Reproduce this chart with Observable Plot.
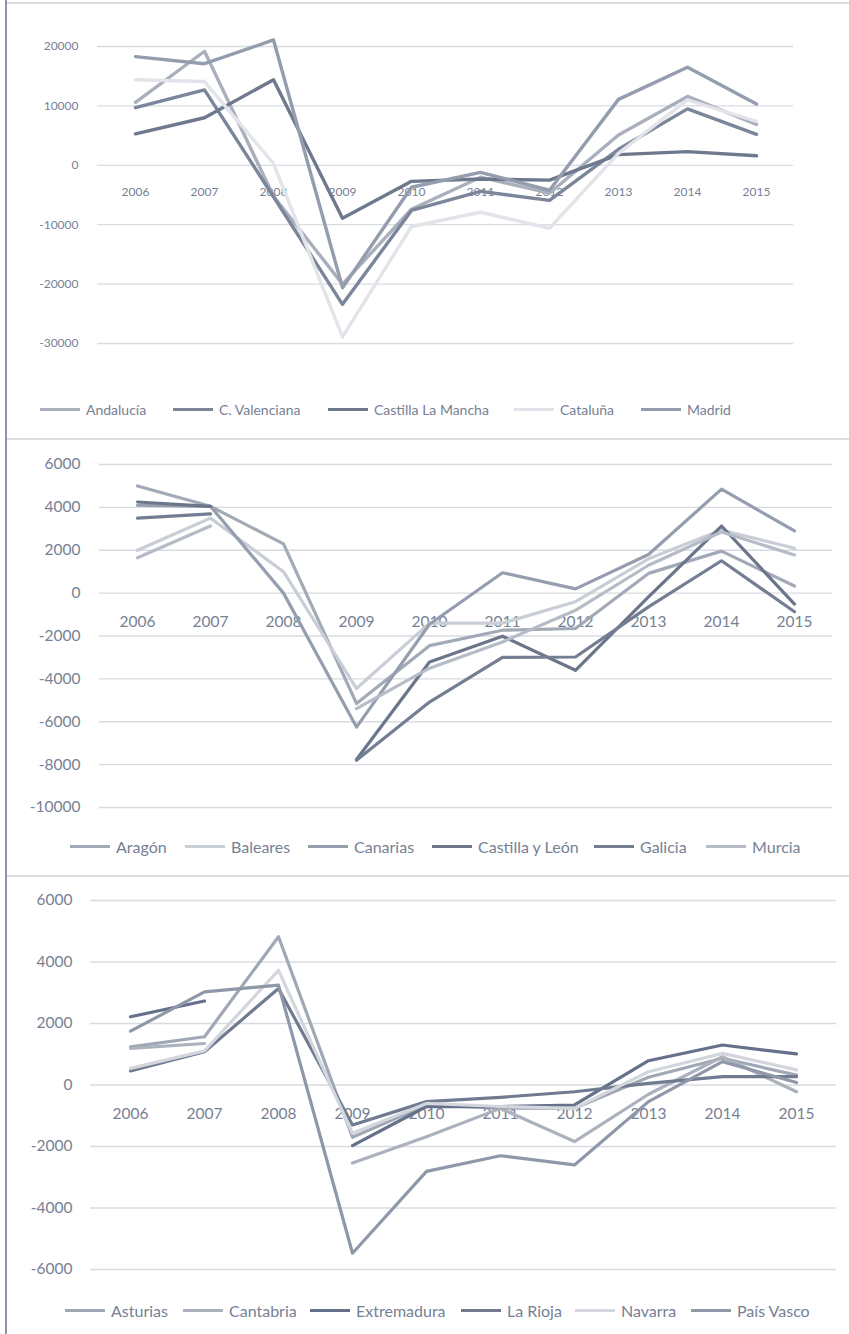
<!DOCTYPE html>
<html>
<head>
<meta charset="utf-8">
<script src="https://cdn.jsdelivr.net/npm/d3@7"></script>
<script src="https://cdn.jsdelivr.net/npm/@observablehq/plot@0.6"></script>
<style>
  html, body { margin: 0; padding: 0; background: #fff; }
  body { width: 849px; height: 1334px; position: relative; overflow: hidden; font-family: Lato, "Open Sans", sans-serif; }
  .panel { position: absolute; left: 0; width: 849px; }
  .hline { position: absolute; left: 7px; right: 0; height: 2px; background: #dcdee4; }
  .vline { position: absolute; left: 5px; top: 0; width: 2px; height: 1334px; background: #8a94a6; }
  .leg { position: absolute; display: flex; align-items: center; white-space: nowrap; color: #76819400; }
  .leg span { color: #768194; }
  .leg .sw { width: 40px; height: 3px; margin-right: 6px; }
</style>
</head>
<body>
<div id="root"></div>
<script>
// ---------- DATA ----------
const years = ["2006","2007","2008","2009","2010","2011","2012","2013","2014","2015"];

// Panel 1
const p1Names = ["Andalucía", "C. Valenciana", "Castilla La Mancha", "Cataluña", "Madrid"];
const andalucia        = [10600, 19200, -5200, -20000, -7400, -2000, -4700, 5100, 11600, 6900];
const cValenciana      = [9700, 12700, -5300, -23400, -7600, -4400, -5900, 2700, 9500, 5200];
const castillaLaMancha = [5300, 8000, 14400, -8900, -2700, -2300, -2500, 1800, 2300, 1600];
const cataluna         = [14400, 14100, 300, -28900, -10300, -7900, -10600, 2000, 11000, 7400];
const madrid           = [18300, 17100, 21100, -20600, -3700, -1200, -4200, 11100, 16500, 10300];
const p1Colors = ["#a9b0bc", "#7b869a", "#6e798d", "#e3e4e9", "#949dad"];
const p1Ticks = [20000, 10000, 0, -10000, -20000, -30000];

// Panel 2
const p2Names = ["Aragón", "Baleares", "Canarias", "Castilla y León", "Galicia", "Murcia"];
const aragon        = [5000, 4050, 2300, -5150, -2450, -1730, -1650, 920, 1960, 330];
const baleares      = [2000, 3500, 1000, -4450, -1400, -1400, -400, 1600, 2940, 2090];
const canarias      = [4100, 4050, 0, -6250, -1450, 950, 200, 1800, 4850, 2900];
const castillaLeon  = [4250, 4050, null, -7760, -3210, -2010, -3600, -170, 3130, -510];
const galicia       = [3500, 3700, null, -7800, -5080, -3000, -2980, -640, 1510, -870];
const murcia        = [1650, 3130, null, -5390, -3500, -2280, -800, 1300, 2850, 1780];
const p2Colors = ["#a3aab7", "#c9cdd5", "#959eae", "#6b768a", "#737e92", "#b6bcc7"];
const p2Ticks = [6000, 4000, 2000, 0, -2000, -4000, -6000, -8000, -10000];

// Panel 3
const p3Names = ["Asturias", "Cantabria", "Extremadura", "La Rioja", "Navarra", "País Vasco"];
const asturias    = [1240, 1570, 4820, -1700, -650, -750, -760, 250, 870, 320];
const cantabria   = [1190, 1350, null, -2540, -1680, -760, -1840, -300, 920, -220];
const extremadura = [2220, 2730, null, -1970, -700, -700, -650, 790, 1300, 1010];
const laRioja     = [460, 1080, 3140, -1300, -540, -400, -220, 50, 270, 270];
const navarra     = [540, 1110, 3730, -1570, -600, -700, -760, 430, 1030, 490];
const paisVasco   = [1750, 3030, 3250, -5470, -2810, -2300, -2600, -540, 760, 80];
const p3Colors = ["#a0a8b5", "#abb2be", "#65708a", "#707b90", "#d3d6dd", "#8e98a9"];
const p3Ticks = [6000, 4000, 2000, 0, -2000, -4000, -6000];

// ---------- LAYOUT ----------
const panels = [
  { top: 0, height: 360, mTop: 46, mBottom: 17, mLeft: 97, mRight: 56,
    names: p1Names, series: [andalucia, cValenciana, castillaLaMancha, cataluna, madrid],
    colors: p1Colors, ticks: p1Ticks, domain: [-30000, 20000],
    tickFont: 12, tickPad: 19, xFont: 12, xDy: 27, sw: 3.4,
    legY: 409, legFont: 14, legX: [40, 173, 328, 514, 641] },
  { top: 440, height: 380, mTop: 24, mBottom: 13, mLeft: 99, mRight: 17,
    names: p2Names, series: [aragon, baleares, canarias, castillaLeon, galicia, murcia],
    colors: p2Colors, ticks: p2Ticks, domain: [-10000, 6000],
    tickFont: 15.5, tickPad: 19, xFont: 15.5, xDy: 29, sw: 3.2,
    legY: 846, legFont: 16, legX: [70, 185, 308, 432, 594, 706] },
  { top: 876, height: 410, mTop: 24, mBottom: 17, mLeft: 90, mRight: 13,
    names: p3Names, series: [asturias, cantabria, extremadura, laRioja, navarra, paisVasco],
    colors: p3Colors, ticks: p3Ticks, domain: [-6000, 6000],
    tickFont: 15.5, tickPad: 18, xFont: 15.5, xDy: 29, sw: 3.2,
    legY: 1310, legFont: 16, legX: [65, 183, 310, 461, 575, 691] }
];

const root = document.getElementById("root");
const textColor = "#768194";

for (const p of panels) {
  const rows = [];
  p.names.forEach((name, i) => {
    p.series[i].forEach((v, j) => rows.push({ year: years[j], name, value: v }));
  });

  const chart = Plot.plot({
    width: 849,
    height: p.height,
    marginTop: p.mTop,
    marginBottom: p.mBottom,
    marginLeft: p.mLeft,
    marginRight: p.mRight,
    style: { fontFamily: "Lato, 'Open Sans', sans-serif", background: "transparent", color: textColor, overflow: "visible" },
    x: { type: "point", domain: years, padding: 0.5, axis: null },
    y: { domain: p.domain },
    color: { domain: p.names, range: p.colors },
    marks: [
      Plot.gridY(p.ticks, { stroke: "#d9dbe2", strokeOpacity: 1, strokeWidth: 1.3 }),
      Plot.axisY(p.ticks, { label: null, tickSize: 0, tickPadding: p.tickPad, tickFormat: d => String(d), fontSize: p.tickFont, fill: textColor }),
      Plot.text(years, { x: d => d, y: () => 0, dy: p.xDy, text: d => d, fontSize: p.xFont, fill: textColor }),
      Plot.line(rows, { x: "year", y: "value", z: "name", stroke: "name", strokeWidth: p.sw, strokeLinejoin: "round", strokeLinecap: "round" })
    ]
  });
  const wrap = document.createElement("div");
  wrap.className = "panel";
  wrap.style.top = p.top + "px";
  wrap.appendChild(chart);
  root.appendChild(wrap);

  // legend
  p.names.forEach((name, i) => {
    const item = document.createElement("div");
    item.className = "leg";
    item.style.left = p.legX[i] + "px";
    item.style.top = (p.legY - 12) + "px";
    item.style.height = "24px";
    item.style.fontSize = p.legFont + "px";
    const sw = document.createElement("div");
    sw.className = "sw";
    sw.style.background = p.colors[i];
    const t = document.createElement("span");
    t.textContent = name;
    item.appendChild(sw);
    item.appendChild(t);
    root.appendChild(item);
  });
}

// frame lines
for (const y of [2, 438, 875]) {
  const h = document.createElement("div");
  h.className = "hline";
  h.style.top = y + "px";
  root.appendChild(h);
}
const v = document.createElement("div");
v.className = "vline";
root.appendChild(v);
</script>
</body>
</html>
